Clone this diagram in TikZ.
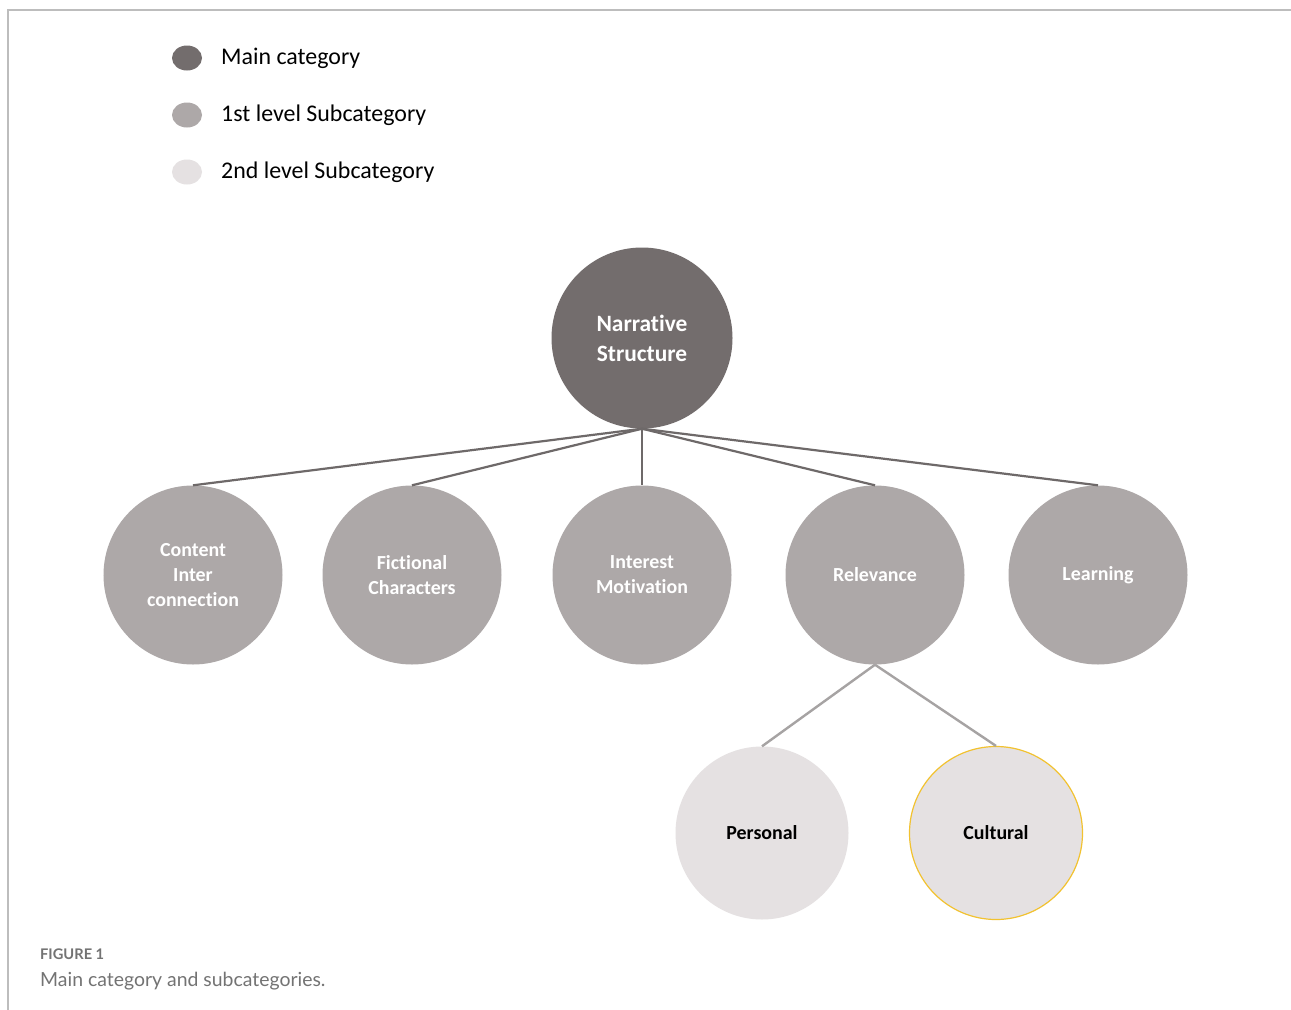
\documentclass[tikz,border=0pt]{standalone}
\usepackage{fontspec}
\setmainfont[Ligatures=NoCommon]{Carlito}
\newfontfamily\capfont{Lato}
\usetikzlibrary{shapes.geometric}

\definecolor{maincat}{HTML}{736D6D}
\definecolor{subone}{HTML}{ADA8A8}
\definecolor{subtwo}{HTML}{E5E1E2}
\definecolor{linkdark}{HTML}{6E6969}
\definecolor{linklight}{HTML}{A6A3A3}
\definecolor{framegray}{HTML}{BDBDBD}
\definecolor{capgray}{HTML}{737373}
\definecolor{ringgold}{HTML}{F2C230}

\begin{document}
\begin{tikzpicture}[x=1bp, y=-1bp,
  maincircle/.style={circle, fill=maincat, minimum size=181bp, inner sep=0pt,
    text=white, align=center, font=\bfseries\fontsize{23.5}{30}\selectfont},
  levelone/.style={circle, fill=subone, minimum size=179bp, inner sep=0pt,
    text=white, align=center, font=\bfseries\fontsize{20}{25}\selectfont},
  leveltwo/.style={circle, fill=subtwo, minimum size=173bp, inner sep=0pt,
    text=black, align=center, font=\bfseries\fontsize{20}{25}\selectfont},
  legdot/.style={ellipse, minimum width=30bp, minimum height=25bp, inner sep=0pt},
  legtext/.style={anchor=west, inner sep=0pt, font=\fontsize{24}{28}\selectfont},
  toplink/.style={draw=linkdark, line width=2.2bp},
  sublink/.style={draw=linklight, line width=2.4bp}]

\useasboundingbox (0,0) rectangle (1291,1010);
\fill[white] (0,0) rectangle (1291,1010);

% frame
\draw[framegray, line width=1.6bp] (8,1010) -- (8,10) -- (1291,10);

% legend
\node[legdot, fill=maincat] (dmain) at (187,58) {};
\node[legdot, fill=subone]  (done)  at (187,115) {};
\node[legdot, fill=subtwo]  (dtwo)  at (187,172) {};
\node[legtext] (tmain) at (221,58)  {Main category};
\node[legtext] (tone)  at (221,115) {1st level Subcategory};
\node[legtext] (ttwo)  at (221,172) {2nd level Subcategory};

% hierarchy
\node[maincircle] (ns) at (642,338) {Narrative\\Structure};

\node[levelone] (ci) at (193,575) {Content\\Inter\\connection};
\node[levelone] (fc) at (412,575) {Fictional\\Characters};
\node[levelone] (im) at (642,575) {Interest\\Motivation};
\node[levelone] (rel) at (875,575) {Relevance};
\node[levelone] (lrn) at (1098,575) {Learning};

\node[leveltwo] (pers) at (762,833) {Personal};
\node[leveltwo, draw=ringgold, line width=1.2bp] (cult) at (996,833) {Cultural};

\draw[toplink] (ns.south) -- (ci.north);
\draw[toplink] (ns.south) -- (fc.north);
\draw[toplink] (ns.south) -- (im.north);
\draw[toplink] (ns.south) -- (rel.north);
\draw[toplink] (ns.south) -- (lrn.north);

\draw[sublink] (rel.south) -- (pers.north);
\draw[sublink] (rel.south) -- (cult.north);

% caption
\node[anchor=base west, inner sep=0pt, text=capgray,
  font=\capfont\bfseries\fontsize{14.7}{17}\selectfont] (capnum) at (40,959) {FIGURE 1};
\node[anchor=base west, inner sep=0pt, text=capgray,
  font=\capfont\fontsize{19.5}{23}\selectfont] (captxt) at (40,986) {Main category and subcategories.};
\end{tikzpicture}
\end{document}
